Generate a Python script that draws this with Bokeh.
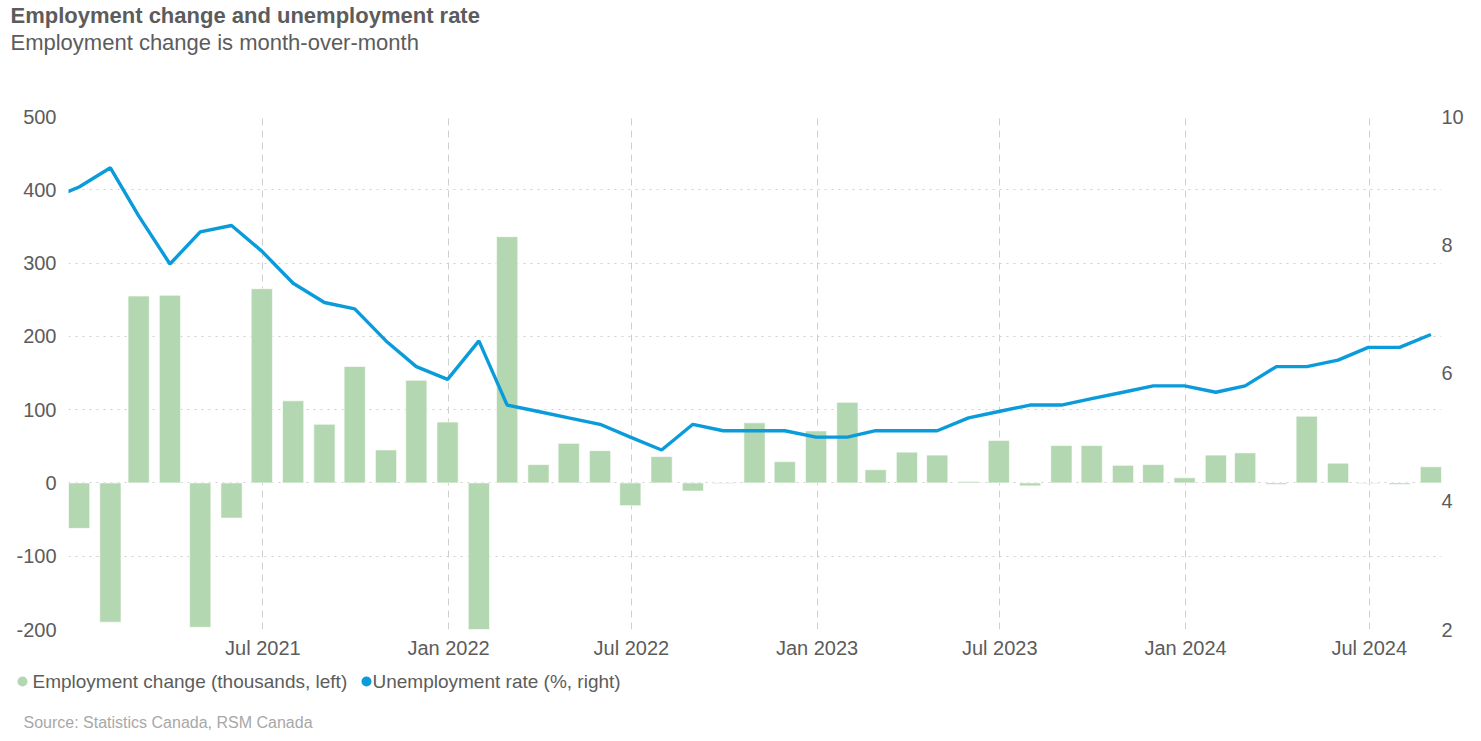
import pandas as pd
from bokeh.plotting import figure
from bokeh.layouts import column
from bokeh.models import (Range1d, LinearAxis, FixedTicker, Label,
                          ColumnDataSource)
from bokeh.embed import file_html
from bokeh.resources import INLINE

# ---------------- data ----------------
rate_months = ["2020-11", "2020-12",
               "2021-01", "2021-02", "2021-03", "2021-04", "2021-05", "2021-06",
               "2021-07", "2021-08", "2021-09", "2021-10", "2021-11", "2021-12",
               "2022-01", "2022-02", "2022-03", "2022-04", "2022-05", "2022-06",
               "2022-07", "2022-08", "2022-09", "2022-10", "2022-11", "2022-12",
               "2023-01", "2023-02", "2023-03", "2023-04", "2023-05", "2023-06",
               "2023-07", "2023-08", "2023-09", "2023-10", "2023-11", "2023-12",
               "2024-01", "2024-02", "2024-03", "2024-04", "2024-05", "2024-06",
               "2024-07", "2024-08"]
unemployment_rate = [8.7, 8.9,
                     9.2, 8.45, 7.7, 8.2, 8.3, 7.9,
                     7.4, 7.1, 7.0, 6.5, 6.1, 5.9,
                     6.5, 5.5, 5.4, 5.3, 5.2, 5.0,
                     4.8, 5.2, 5.1, 5.1, 5.1, 5.0,
                     5.0, 5.1, 5.1, 5.1, 5.3, 5.4,
                     5.5, 5.5, 5.6, 5.7, 5.8, 5.8,
                     5.7, 5.8, 6.1, 6.1, 6.2, 6.4,
                     6.4, 6.6]

emp_months = rate_months[1:]
employment_change = [-62,
                     -190, 255, 256, -197, -48, 265,
                     112, 80, 159, 45, 140, 83,
                     -200, 336, 25, 54, 44, -31,
                     36, -11, -1, 82, 29, 71,
                     110, 18, 42, 38, 2, 58,
                     -4, 51, 51, 24, 25, 7,
                     38, 41, -2, 91, 27, -1,
                     -2, 22]

x_tick_labels = ["Jul 2021", "Jan 2022", "Jul 2022", "Jan 2023",
                 "Jul 2023", "Jan 2024", "Jul 2024"]
left_ticks = [-200, -100, 0, 100, 200, 300, 400, 500]
right_ticks = [2, 4, 6, 8, 10]

title_text = "Employment change and unemployment rate"
subtitle_text = "Employment change is month-over-month"
source_text = "Source: Statistics Canada, RSM Canada"
legend_labels = ["Employment change (thousands, left)",
                 "Unemployment rate (%, right)"]

# ---------------- styling ----------------
FONT = "Liberation Sans"
GREEN = "#b3d7b0"
BLUE = "#0a9bdb"
TEXT = "#5c5c5c"
GRID = "#cfcfcf"
W = 1475
HEAD_H = 106
MAIN_H = 555
FOOT_H = 74


def month_end(m):
    return pd.Timestamp(m + "-01") + pd.offsets.MonthEnd(0)


def blank_panel(h):
    f = figure(width=W, height=h, x_range=Range1d(0, W), y_range=Range1d(h, 0),
               x_axis_location=None, y_axis_location=None,
               output_backend="svg", toolbar_location=None, min_border=0)
    f.grid.visible = False
    f.outline_line_color = None
    f.frame_align = False
    return f


emp_dates = [month_end(m) for m in emp_months]
rate_dates = [month_end(m) for m in rate_months]
tick_dates = [pd.to_datetime(t, format="%b %Y") for t in x_tick_labels]
tick_ms = [d.timestamp() * 1000.0 for d in tick_dates]

bar_w = pd.Timedelta(days=21)
x_start = emp_dates[0] - bar_w / 2
x_end = emp_dates[-1] + bar_w / 2

# ---------------- header ----------------
head = blank_panel(HEAD_H)
head.add_layout(Label(x=10, y=15, text=title_text, text_font=FONT,
                      text_font_style="bold", text_font_size="22px",
                      text_color=TEXT, text_baseline="middle"))
head.add_layout(Label(x=10, y=42, text=subtitle_text, text_font=FONT,
                      text_font_size="22px", text_color=TEXT,
                      text_baseline="middle"))

# ---------------- main chart ----------------
p = figure(width=W, height=MAIN_H, x_axis_type="datetime",
           x_range=Range1d(x_start, x_end), y_range=Range1d(-200, 500),
           output_backend="svg", toolbar_location=None,
           min_border_left=68, min_border_right=W - 1441,
           min_border_top=116 - HEAD_H, min_border_bottom=32)
p.outline_line_color = None
p.frame_align = False
p.extra_y_ranges = {"rate": Range1d(2, 10)}

bar_src = ColumnDataSource(dict(x=emp_dates, top=employment_change))
p.vbar(x="x", top="top", bottom=0, width=bar_w, source=bar_src,
       fill_color=GREEN, line_color="white", line_alpha=0.6, line_width=1)

line_src = ColumnDataSource(dict(x=rate_dates, y=unemployment_rate))
p.line(x="x", y="y", source=line_src, y_range_name="rate",
       line_color=BLUE, line_width=3.4)

xt = FixedTicker(ticks=tick_ms)
p.xaxis.ticker = xt
p.xaxis.major_label_overrides = {t: lab for t, lab in zip(tick_ms, x_tick_labels)}
p.yaxis.ticker = FixedTicker(ticks=left_ticks)
p.yaxis.major_label_overrides = {t: str(t) for t in left_ticks}

right = LinearAxis(y_range_name="rate", ticker=FixedTicker(ticks=right_ticks))
p.add_layout(right, "right")

for ax in [p.xaxis[0], p.yaxis[0], right]:
    ax.axis_line_color = None
    ax.major_tick_line_color = None
    ax.minor_tick_line_color = None
    ax.major_tick_out = 0
    ax.major_tick_in = 0
    ax.major_label_text_font = FONT
    ax.major_label_text_font_size = "20px"
    ax.major_label_text_color = TEXT
p.xaxis.major_label_standoff = 7
p.yaxis[0].major_label_standoff = 12
right.major_label_standoff = 0

p.xgrid.ticker = xt
p.xgrid.grid_line_color = GRID
p.xgrid.grid_line_dash = "7 5"
p.ygrid.ticker = FixedTicker(ticks=left_ticks)
p.ygrid.grid_line_color = GRID
p.ygrid.grid_line_dash = "2 5"

# ---------------- footer: legend + source ----------------
foot = blank_panel(FOOT_H)
leg_src = ColumnDataSource(dict(x=[22, 366], y=[20, 20], c=[GREEN, BLUE]))
foot.scatter(x="x", y="y", source=leg_src, marker="circle", size=10,
             fill_color="c", line_color=None)
for lx, lab in zip([32, 372], legend_labels):
    foot.add_layout(Label(x=lx, y=20, text=lab, text_font=FONT,
                          text_font_size="19px", text_color=TEXT,
                          text_baseline="middle"))
foot.add_layout(Label(x=23, y=61, text=source_text, text_font=FONT,
                      text_font_size="16px", text_color="#a8a8a8",
                      text_baseline="middle"))

layout = column(head, p, foot, spacing=0)
open("out.html", "w").write(file_html(layout, INLINE))
